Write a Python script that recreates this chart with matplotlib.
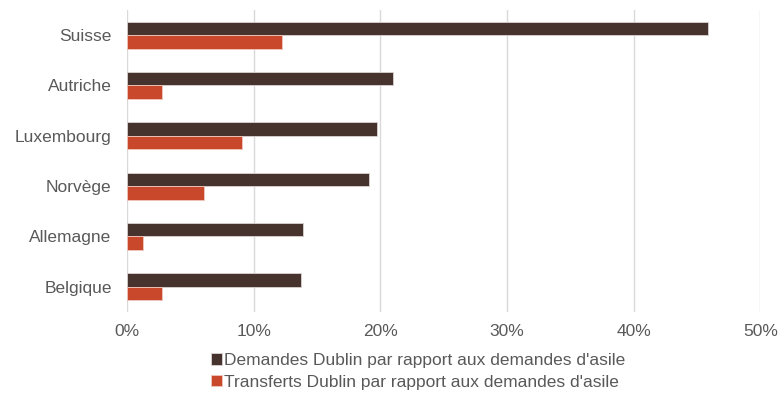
import numpy as np
import matplotlib.pyplot as plt
from matplotlib.ticker import FuncFormatter

plt.rcParams['font.family'] = ['Liberation Sans', 'DejaVu Sans']

# Data (top to bottom)
pays = ['Suisse', 'Autriche', 'Luxembourg', 'Norvège', 'Allemagne', 'Belgique']
demandes = [45.9, 21.0, 19.7, 19.1, 13.9, 13.7]
transferts = [12.2, 2.8, 9.1, 6.1, 1.3, 2.8]

dark = '#46332d'
red = '#c9472b'
grey = '#595959'

fig = plt.figure(figsize=(7.79, 4.16), dpi=100)
ax = fig.add_axes([0.163, 0.25, 0.813, 0.726])

y = np.arange(len(pays))
h = 0.27
ax.barh(y - h / 2, demandes, height=h, color=dark, edgecolor='#d9d3d1', linewidth=0.6,
        label="Demandes Dublin par rapport aux demandes d'asile", zorder=3)
ax.barh(y + h / 2, transferts, height=h, color=red, edgecolor='#f0c8bd', linewidth=0.6,
        label="Transferts Dublin par rapport aux demandes d'asile", zorder=3)

ax.set_ylim(len(pays) - 0.5, -0.5)
ax.set_yticks(y)
ax.set_yticklabels(pays)
ax.set_xlim(0, 50)
ax.set_xticks(range(0, 51, 10))
ax.xaxis.set_major_formatter(FuncFormatter(lambda v, p: f'{v:.0f}%'))

ax.grid(axis='x', color='#d9d9d9', linewidth=1, zorder=0)
for s in ax.spines.values():
    s.set_visible(False)
ax.tick_params(length=0, labelsize=12.5, colors=grey)
ax.tick_params(axis='y', pad=11)
ax.tick_params(axis='x', pad=9)

fig.legend(loc='upper center', bbox_to_anchor=(0.537, 0.172), ncol=1, frameon=False,
           fontsize=12.5, labelcolor=grey, handlelength=0.6, handleheight=0.6,
           handletextpad=0.15, labelspacing=0.4, borderpad=0)

fig.savefig('out.png', dpi=100)
